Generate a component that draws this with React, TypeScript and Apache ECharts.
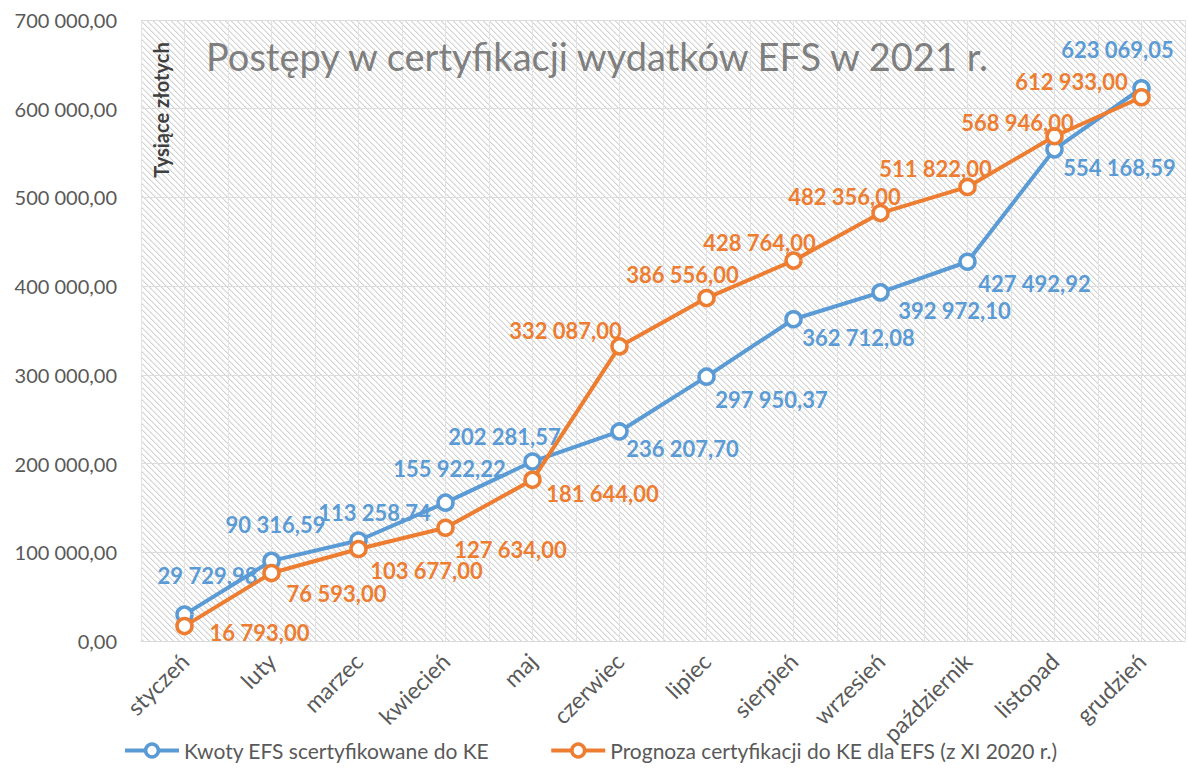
import React, { useEffect, useRef } from "react";
import * as echarts from "echarts";

const months = ["styczeń", "luty", "marzec", "kwiecień", "maj", "czerwiec", "lipiec", "sierpień", "wrzesień", "październik", "listopad", "grudzień"];
const certified = [29729.98, 90316.59, 113258.74, 155922.22, 202281.57, 236207.7, 297950.37, 362712.08, 392972.1, 427492.92, 554168.59, 623069.05];
const forecast = [16793, 76593, 103677, 127634, 181644, 332087, 386556, 428764, 482356, 511822, 568946, 612933];
const seriesNames = ["Kwoty EFS scertyfikowane do KE", "Prognoza certyfikacji do KE dla EFS (z XI 2020 r.)"];
const titleText = "Postępy w certyfikacji wydatków EFS w 2021 r.";
const yAxisTitle = "Tysiące złotych";

// label offsets (styling) relative to each point
const certOffsets = [[23, -39], [4, -36], [16, -28], [4, -34], [-28, -25], [63, 17], [65, 23], [65, 18], [74, 18], [67, 22], [65, 18], [-24, -39]];
const fcOffsets = [[75, 6], [65, 20], [68, 21], [65, 22], [70, 14], [-54, -16], [-24, -24], [-34, -18], [-36, -17], [-32, -18], [-37, -14], [-70, -16]];

const BLUE = "#5b9bd5";
const ORANGE = "#ed7d31";
const FONT = "Lato, 'Open Sans', sans-serif";

function fmt(v: number): string {
  const [i, d] = v.toFixed(2).split(".");
  const withSpaces = i.replace(/\B(?=(\d{3})+(?!\d))/g, " ");
  return withSpaces + "," + d;
}

function makeHatch(): HTMLCanvasElement {
  const c = document.createElement("canvas");
  const n = 6;
  c.width = n;
  c.height = n;
  const ctx = c.getContext("2d")!;
  ctx.fillStyle = "#ffffff";
  ctx.fillRect(0, 0, n, n);
  for (let x = 0; x < n; x++) {
    for (let y = 0; y < n; y++) {
      const k = (x - y + n) % n;
      if (k === 0) {
        ctx.fillStyle = "#d3d3d3";
        ctx.fillRect(x, y, 1, 1);
      } else if (k === 1) {
        ctx.fillStyle = "#e9e9e9";
        ctx.fillRect(x, y, 1, 1);
      }
    }
  }
  return c;
}

export default function App() {
  const ref = useRef<HTMLDivElement>(null);
  useEffect(() => {
    if (!ref.current) return;
    const chart = echarts.init(ref.current, null, { renderer: "svg" });
    const hatch = makeHatch();
    const labelStyle = (color: string) => ({
      show: true,
      position: "inside",
      color,
      fontFamily: FONT,
      fontWeight: "bold",
      fontSize: 22,
      formatter: (p: any) => fmt(p.value),
    });
    chart.setOption({
      animation: false,
      backgroundColor: "#ffffff",
      grid: {
        left: 141,
        right: 3,
        top: 20,
        bottom: 131,
        show: true,
        borderWidth: 0,
        backgroundColor: { image: hatch, repeat: "repeat", imageWidth: 6, imageHeight: 6 },
      },
      graphic: [
        {
          type: "text",
          x: 597,
          y: 56,
          style: {
            text: titleText,
            fill: "#7f7f7f",
            font: `38px ${FONT}`,
            textAlign: "center",
            textVerticalAlign: "middle",
          },
          z: 10,
        },
        {
          type: "text",
          x: 161,
          y: 110,
          rotation: Math.PI / 2,
          style: {
            text: yAxisTitle,
            fill: "#404040",
            font: `bold 20px ${FONT}`,
            textAlign: "center",
            textVerticalAlign: "middle",
          },
          z: 10,
        },
      ],
      legend: {
        left: 118,
        bottom: 6,
        itemWidth: 54,
        itemHeight: 16,
        itemGap: 60,
        textStyle: { color: "#595959", fontSize: 21, fontFamily: FONT },
        lineStyle: { width: 4 },
        itemStyle: { borderWidth: 3.5 },
        data: seriesNames,
      },
      xAxis: [
        {
          type: "category",
          data: months,
          boundaryGap: true,
          axisLine: { show: true, lineStyle: { color: "#d9d9d9", width: 1 } },
          axisTick: { show: false },
          axisLabel: {
            rotate: 45,
            interval: 0,
            color: "#595959",
            fontSize: 23,
            fontFamily: FONT,
            margin: 16,
          },
          splitLine: { show: false },
        },
        {
          type: "category",
          data: new Array(24).fill(""),
          boundaryGap: true,
          position: "bottom",
          axisLine: { show: false },
          axisTick: { show: false },
          axisLabel: { show: false },
          splitLine: { show: true, interval: 0, lineStyle: { color: "#e3e3e3", width: 1 } },
        },
      ],
      yAxis: {
        type: "value",
        min: 0,
        max: 700000,
        interval: 100000,
        axisLine: { show: false },
        axisTick: { show: false },
        axisLabel: {
          color: "#595959",
          fontSize: 20,
          fontFamily: FONT,
          margin: 24,
          formatter: (v: number) => fmt(v),
        },
        splitLine: { show: true, lineStyle: { color: "#dcdcdc", width: 1 } },
      },
      series: [
        {
          name: seriesNames[0],
          type: "line",
          xAxisIndex: 0,
          data: certified.map((v, i) => ({ value: v, label: { offset: certOffsets[i] } })),
          lineStyle: { color: BLUE, width: 4 },
          itemStyle: { color: "#ffffff", borderColor: BLUE, borderWidth: 3.5 },
          symbol: "circle",
          symbolSize: 15,
          label: labelStyle(BLUE),
          z: 3,
        },
        {
          name: seriesNames[1],
          type: "line",
          xAxisIndex: 0,
          data: forecast.map((v, i) => ({ value: v, label: { offset: fcOffsets[i] } })),
          lineStyle: { color: ORANGE, width: 4 },
          itemStyle: { color: "#ffffff", borderColor: ORANGE, borderWidth: 3.5 },
          symbol: "circle",
          symbolSize: 15,
          label: labelStyle(ORANGE),
          z: 4,
        },
      ],
    });
    return () => chart.dispose();
  }, []);
  return <div ref={ref} style={{ position: "fixed", left: 0, top: 0, width: 1188, height: 772 }} />;
}
